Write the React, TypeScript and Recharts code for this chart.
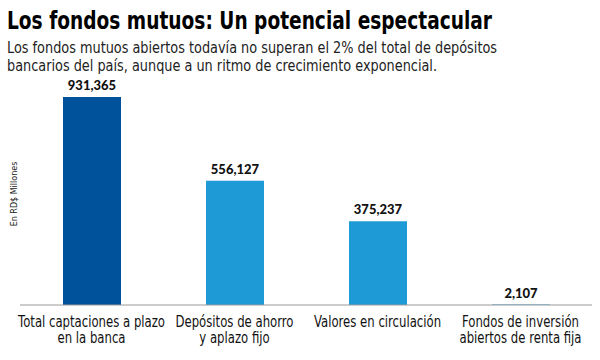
import React from 'react'
import { BarChart, Bar, XAxis, YAxis, LabelList, Cell } from 'recharts'

const categories = [
  ['Total captaciones a plazo', 'en la banca'],
  ['Depósitos de ahorro', 'y aplazo fijo'],
  ['Valores en circulación'],
  ['Fondos de inversión', 'abiertos de renta fija'],
]
const values = [931365, 556127, 375237, 2107]
const colors = ['#00529b', '#1e9bd7', '#1e9bd7', '#1e9bd7']

const title = 'Los fondos mutuos: Un potencial espectacular'
const subtitle = [
  'Los fondos mutuos abiertos todavía no superan el 2% del total de depósitos',
  'bancarios del país, aunque a un ritmo de crecimiento exponencial.',
]

const data = categories.map((c, i) => ({ name: c.join('|'), value: values[i] }))

const sans = '"DejaVu Sans", sans-serif'

function CategoryTick(props: any) {
  const { x, y, payload } = props
  const lines = String(payload.value).split('|')
  return (
    <g>
      {lines.map((l, i) => (
        <text
          key={i}
          transform={`translate(${x},${y + 14 + i * 16}) scale(0.78,1)`}
          x={0}
          y={0}
          textAnchor="middle"
          fontFamily={sans}
          fontSize={15}
          fill="#111"
        >
          {l}
        </text>
      ))}
    </g>
  )
}

export default function App() {
  return (
    <div style={{ position: 'absolute', top: 0, left: 0, width: 600, height: 360, background: '#fff' }}>
      <BarChart
        width={600}
        height={360}
        data={data}
        margin={{ top: 97, right: 8, left: 20, bottom: 25 }}
      >
        <text
          x={7}
          y={29}
          fontFamily={sans}
          fontWeight="bold"
          fontSize={25}
          fill="#000"
          textLength={485}
          lengthAdjust="spacingAndGlyphs"
        >
          {title}
        </text>
        <text
          x={7}
          y={53}
          fontFamily={sans}
          fontSize={16}
          fill="#222"
          textLength={490}
          lengthAdjust="spacingAndGlyphs"
        >
          {subtitle[0]}
        </text>
        <text
          x={7}
          y={71}
          fontFamily={sans}
          fontSize={16}
          fill="#222"
          textLength={430}
          lengthAdjust="spacingAndGlyphs"
        >
          {subtitle[1]}
        </text>
        <XAxis
          dataKey="name"
          height={30}
          axisLine={{ stroke: '#999' }}
          tickLine={false}
          interval={0}
          tick={(p: any) => <CategoryTick {...p} />}
        />
        <YAxis hide domain={[0, 931365]} />
        <Bar dataKey="value" barSize={58} isAnimationActive={false}>
          {data.map((d, i) => (
            <Cell key={i} fill={colors[i]} />
          ))}
          <LabelList
            dataKey="value"
            position="top"
            offset={7}
            formatter={(v: any) => Number(v).toLocaleString('en-US')}
            style={{ fontFamily: 'Lato, "Open Sans", sans-serif', fontWeight: 900, fontSize: 13, fill: '#111' }}
          />
        </Bar>
        <text
          x={17}
          y={194}
          transform="rotate(-90 17 194)"
          textAnchor="middle"
          fontFamily={sans}
          fontSize={8}
          fill="#222"
        >
          En RD$ Millones
        </text>
      </BarChart>
    </div>
  )
}
